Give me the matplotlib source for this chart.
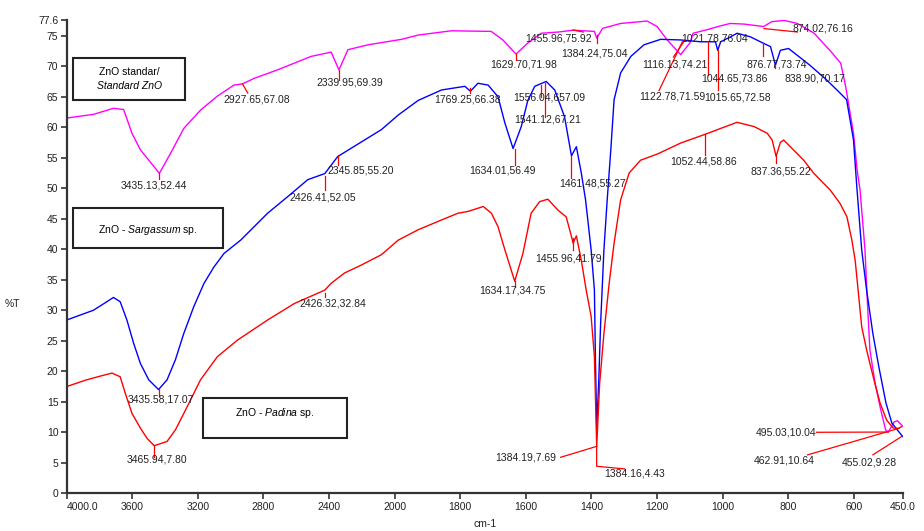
import numpy as np
import matplotlib
matplotlib.use('Agg')
import matplotlib.pyplot as plt
from matplotlib.patches import Rectangle

plt.rcParams['font.family'] = ['Liberation Sans', 'DejaVu Sans']
plt.rcParams['mathtext.fontset'] = 'custom'
plt.rcParams['mathtext.rm'] = 'Liberation Sans'
plt.rcParams['mathtext.it'] = 'Liberation Sans:italic'

# ZnO standard (magenta)
std_wn = [4000, 3837, 3715, 3653, 3602, 3551, 3435, 3367, 3286, 3184, 3081, 2980, 2928, 2857,
          2714, 2510, 2387, 2340, 2285, 2163, 1979, 1928, 1827, 1706, 1670, 1630, 1594, 1553,
          1500, 1456, 1391, 1384, 1366, 1311, 1230, 1200, 1169, 1128, 1100, 1090, 1046, 1007,
          977, 935, 875, 850, 812, 772, 721, 670, 640, 625, 601, 590, 581, 566, 559, 551, 535,
          518, 503, 495, 477, 467, 451]
std_t = [61.5, 62.1, 63.1, 62.9, 59.0, 56.3, 52.44, 55.7, 59.8, 62.8, 65.1, 66.9, 67.1, 68.0,
         69.4, 71.6, 72.3, 69.39, 72.7, 73.5, 74.4, 75.1, 75.8, 75.7, 74.3, 71.98, 73.8, 75.4,
         75.6, 75.9, 75.7, 74.6, 76.2, 77.0, 77.4, 76.5, 74.3, 71.9, 73.8, 75.4, 76.0, 76.6,
         77.0, 76.9, 76.5, 77.3, 77.5, 77.0, 75.4, 72.4, 70.5, 66.7, 59.0, 53.0, 49.7, 39.9,
         31.7, 23.5, 18.0, 13.7, 10.4, 10.04, 11.7, 11.9, 11.0]

# ZnO - Sargassum sp. (blue)
sar_wn = [4000, 3919, 3837, 3755, 3715, 3674, 3633, 3592, 3551, 3500, 3440, 3388, 3337, 3286,
          3225, 3163, 3102, 3041, 2939, 2775, 2653, 2530, 2426, 2347, 2081, 1989, 1928, 1857,
          1786, 1769, 1746, 1715, 1685, 1664, 1639, 1614, 1594, 1573, 1538, 1512, 1482, 1461,
          1446, 1431, 1418, 1401, 1391, 1388, 1384, 1378, 1372, 1362, 1352, 1341, 1331, 1311,
          1280, 1240, 1189, 1128, 1067, 1022, 1015, 1006, 976, 956, 915, 885, 854, 839, 824,
          799, 735, 684, 642, 622, 601, 591, 576, 561, 542, 524, 502, 484, 451]
sar_t = [28.4, 29.2, 30.0, 31.4, 32.1, 31.4, 28.4, 24.6, 21.3, 18.6, 17.0, 18.6, 21.9, 26.2,
         30.6, 34.4, 37.1, 39.3, 41.5, 45.9, 48.6, 51.4, 52.4, 55.2, 59.6, 62.0, 64.4, 66.1,
         66.7, 65.9, 67.2, 66.9, 65.0, 60.7, 56.5, 60.1, 64.4, 66.7, 67.5, 66.1, 61.7, 55.3,
         56.8, 52.5, 48.1, 39.9, 33.3, 22.4, 10.9, 18.0, 27.9, 39.9, 48.1, 56.3, 64.5, 68.9,
         71.6, 73.5, 74.4, 74.3, 74.0, 74.0, 72.6, 74.0, 74.8, 75.4, 74.8, 74.0, 73.2, 70.17, 72.6,
         72.9, 70.2, 67.8, 65.6, 64.5, 57.9, 50.3, 39.9, 33.3, 26.2, 20.8, 14.8, 11.5, 9.3]

# ZnO - Padina sp. (red)
pad_wn = [4000, 3878, 3796, 3724, 3674, 3643, 3602, 3551, 3510, 3466, 3388, 3337, 3265, 3184,
          3081, 2959, 2775, 2612, 2426, 2388, 2306, 2204, 2081, 1989, 1928, 1857, 1807, 1776,
          1730, 1705, 1685, 1664, 1634, 1609, 1584, 1558, 1533, 1502, 1477, 1461, 1456, 1446,
          1431, 1416, 1401, 1391, 1384, 1375, 1362, 1346, 1331, 1311, 1285, 1250, 1199, 1128,
          1052, 1006, 956, 904, 864, 849, 837, 824, 814, 753, 723, 672, 642, 621, 606, 596,
          586, 576, 561, 541, 520, 500, 480, 463, 455]
pad_t = [17.5, 18.6, 19.2, 19.7, 19.1, 16.4, 13.1, 10.7, 9.0, 7.8, 8.5, 10.4, 14.2, 18.6,
         22.4, 25.1, 28.4, 31.1, 33.3, 34.4, 36.1, 37.4, 39.1, 41.5, 43.2, 44.8, 45.9, 46.2,
         47.0, 45.9, 43.7, 39.9, 34.75, 39.3, 45.9, 47.8, 48.2, 46.4, 45.3, 42.1, 41.0, 42.2,
         38.2, 33.3, 29.0, 22.4, 7.69, 18.0, 26.2, 34.4, 41.0, 48.1, 52.5, 54.6, 55.6, 57.4,
         58.86, 59.8, 60.8, 60.1, 59.0, 57.9, 55.22, 57.5, 57.9, 54.6, 52.5, 49.7, 47.5, 45.3,
         41.5, 38.2, 32.8, 27.3, 23.5, 19.1, 14.8, 12.0, 10.7, 10.64, 10.9]

x_ticks = [4000, 3600, 3200, 2800, 2400, 2000, 1800, 1600, 1400, 1200, 1000, 800, 600, 450]
x_labels = ['4000.0', '3600', '3200', '2800', '2400', '2000', '1800', '1600', '1400', '1200',
            '1000', '800', '600', '450.0']
y_ticks = [0, 5, 10, 15, 20, 25, 30, 35, 40, 45, 50, 55, 60, 65, 70, 75, 77.6]
y_labels = ['0', '5', '10', '15', '20', '25', '30', '35', '40', '45', '50', '55', '60', '65',
            '70', '75', '77.6']

# peak labels: text, text position (wn, %T), leader line points (wn, %T)
peaks = [
    ('3435.13,52.44', (3470, 50.4), [(3435.13, 52.44), (3435.13, 51.5)]),
    ('2927.65,67.08', (2839, 64.6), [(2927.65, 67.08), (2896, 65.6)]),
    ('2339.95,69.39', (2272, 67.3), [(2339.95, 69.39), (2339.95, 67.8)]),
    ('1629.70,71.98', (1606, 70.2), [(1629.70, 71.98), (1629.70, 71.0)]),
    ('1455.96,75.92', (1500, 74.6), [(1455.96, 75.92), (1425, 75.6)]),
    ('1384.24,75.04', (1391, 72.0), [(1384.24, 75.04), (1384.24, 73.8)]),
    ('1116.13,74.21', (1146, 70.2), [(1116.13, 74.21), (1150, 71.5)]),
    ('1021.78,76.04', (1026, 74.6), []),
    ('874.02,76.16', (694, 76.1), [(874.02, 76.16), (772, 75.6)]),
    ('495.03,10.04', (806, 9.9), [(495.03, 10.04), (714, 10.0)]),
    ('3435.58,17.07', (3429, 15.3), [(3435.58, 17.07), (3435.58, 16.0)]),
    ('2426.41,52.05', (2441, 48.5), [(2426.41, 52.05), (2426.41, 49.7)]),
    ('2345.85,55.20', (2208, 52.9), [(2345.85, 55.20), (2345.85, 53.8)]),
    ('1769.25,66.38', (1779, 64.5), [(1769.25, 66.38), (1769.25, 65.6)]),
    ('1634.01,56.49', (1672, 52.9), [(1634.01, 56.49), (1634.01, 53.8)]),
    ('1556.04,657.09', (1528, 64.9), [(1553, 66.9), (1553, 65.0)]),
    ('1541.12,67.21', (1534, 61.2), [(1541.12, 67.21), (1541.12, 61.7)]),
    ('1461.48,55.27', (1397, 50.8), [(1461.48, 55.27), (1461.48, 51.6)]),
    ('1015.65,72.58', (956, 64.8), [(1015.65, 72.58), (1015.65, 66.1)]),
    ('1044.65,73.86', (963, 67.9), [(1044.65, 74.0), (1044.65, 68.6)]),
    ('876.77,73.74', (836, 70.2), [(876.77, 73.74), (876.77, 71.6)]),
    ('838.90,70.17', (720, 67.9), [(838.90, 70.17), (838.90, 69.7)]),
    ('1122.78,71.59', (1154, 65.0), [(1122.78, 74.0), (1194, 66.0)]),
    ('455.02,9.28', (552, 5.1), [(455.02, 9.28), (542, 6.3)]),
    ('3465.94,7.80', (3451, 5.6), [(3465.94, 7.80), (3465.94, 6.0)]),
    ('2426.32,32.84', (2375, 31.1), [(2426.32, 32.84), (2426.32, 32.2)]),
    ('1634.17,34.75', (1640, 33.2), [(1634.17, 34.75), (1634.17, 33.8)]),
    ('1455.96,41.79', (1469, 38.4), [(1455.96, 41.79), (1455.96, 39.9)]),
    ('1384.19,7.69', (1600, 5.9), [(1384.19, 7.69), (1494, 5.9)]),
    ('1384.16,4.43', (1270, 3.3), [(1384.16, 7.69), (1384.16, 4.43), (1299, 4.0)]),
    ('1052.44,58.86', (1058, 54.3), [(1052.44, 58.86), (1052.44, 55.5)]),
    ('837.36,55.22', (821, 52.7), [(837.36, 55.22), (837.36, 54.1)]),
    ('462.91,10.64', (812, 5.3), [(462.91, 10.64), (741, 6.3)]),
]


def fwd(w):
    w = np.asarray(w, dtype=float)
    return np.where(w >= 2000, w, 2 * w - 2000)


def inv(u):
    u = np.asarray(u, dtype=float)
    return np.where(u >= 2000, u, (u + 2000) / 2)


fig = plt.figure(figsize=(9.24, 5.31), dpi=100)
ax = fig.add_axes([0.0722, 0.0710, 0.9051, 0.8917])
ax.set_xscale('function', functions=(fwd, inv))

ax.plot(std_wn, std_t, color='#ff00ff', lw=1.0)
ax.plot(sar_wn, sar_t, color='#0000ff', lw=1.0)
ax.plot(pad_wn, pad_t, color='#ff0000', lw=1.0)

for txt, (tw, tt), leader in peaks:
    if leader:
        lx, ly = zip(*leader)
        ax.plot(lx, ly, color='#ff0000', lw=0.9)
    ax.text(tw, tt, txt, ha='center', va='center', fontsize=7.5, color='#222222')

ax.set_xlim(4000, 450)
ax.set_ylim(0, 77.6)
ax.set_xticks(x_ticks)
ax.set_xticklabels(x_labels)
ax.set_yticks(y_ticks)
ax.set_yticklabels(y_labels)
ax.xaxis.set_minor_locator(matplotlib.ticker.NullLocator())
ax.get_xticklabels()[0].set_ha('left')
ax.get_xticklabels()[-1].set_ha('center')

for s in ['top', 'right']:
    ax.spines[s].set_visible(False)
for s in ['left', 'bottom']:
    ax.spines[s].set_linewidth(1.6)
    ax.spines[s].set_color('#333333')
ax.tick_params(axis='both', labelsize=7.5, length=4, width=1.2, color='#333333',
               labelcolor='#222222', pad=2)

ax.set_xlabel('cm-1', fontsize=7.5, color='#222222', labelpad=5)
ax.set_ylabel('%T', fontsize=7.5, color='#222222', rotation=0, labelpad=0)
ax.yaxis.set_label_coords(-0.065, 0.39)

# sample boxes
boxes = [(0.0793, 0.8117, 0.1209, 0.0797), (0.0793, 0.5324, 0.1623, 0.0753),
         (0.2200, 0.1746, 0.1552, 0.0753)]
for x0, y0, w, h in boxes:
    fig.patches.append(Rectangle((x0, y0), w, h, transform=fig.transFigure, fill=False,
                                 edgecolor='#222222', lw=1.5))
fig.text(0.1398, 0.8640, 'ZnO standar/', ha='center', va='center', fontsize=7.5)
fig.text(0.1398, 0.8385, 'Standard ZnO', ha='center', va='center', fontsize=7.5,
         style='italic')
fig.text(0.1605, 0.5668, r'ZnO - $\mathit{Sargassum}$ sp.', ha='center', va='center',
         fontsize=7.5)
fig.text(0.2976, 0.2216, r'ZnO - $\mathit{Padina}$ sp.', ha='center', va='center',
         fontsize=7.5)

fig.savefig('out.png', dpi=100)
